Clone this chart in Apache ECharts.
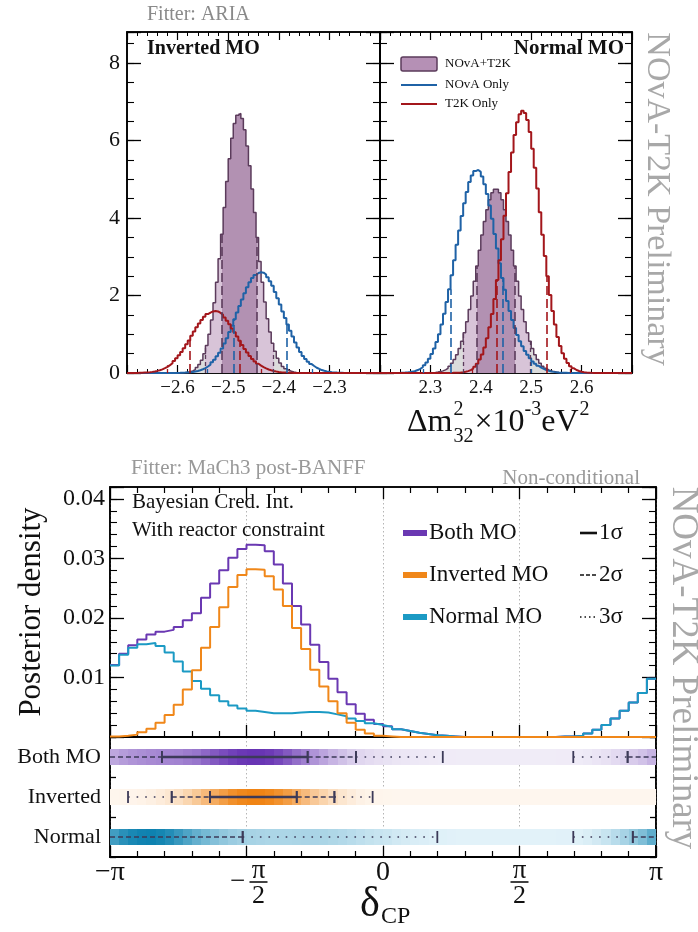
<!DOCTYPE html>
<html><head><meta charset="utf-8">
<script src="https://cdn.jsdelivr.net/npm/echarts@6/dist/echarts.min.js"></script>
<style>html,body{margin:0;padding:0;background:#fff}#c{width:698px;height:932px}</style>
</head><body><div id="c"></div><script>
// ---------------- DATA ----------------
// Top: Δm²32 posteriors, bins of 0.005 (x10^-3 eV^2)
const dmBinWidth = 0.005;
const ioRange = [-2.7, -2.2];
const noRange = [2.2, 2.7];
const ioJoint = [0,0,0,0,0,0,0,0,0,0,
  0,0,0,0,0,0,0,0,0,0.001,
  0.003,0.005,0.009,0.017,0.031,0.052,0.087,0.14,0.22,0.33,
  0.50,0.71,1.00,1.37,1.81,2.34,2.95,3.58,4.27,4.94,
  5.53,6.06,6.44,6.65,6.70,6.57,6.28,5.86,5.35,4.75,
  4.14,3.50,2.88,2.34,1.83,1.40,1.06,0.77,0.56,0.38,
  0.26,0.17,0.11,0.071,0.044,0.026,0.016,0.009,0.005,0.003,
  0.001,0,0,0,0,0,0,0,0,0,
  0,0,0,0,0,0,0,0,0,0,
  0,0,0,0,0,0,0,0,0,0];
const ioNova = [0,0,0,0,0,0,0,0,0,0,
  0,0,0,0,0,0,0.001,0.001,0.002,0.003,
  0.004,0.007,0.010,0.014,0.020,0.028,0.039,0.053,0.072,0.096,
  0.126,0.168,0.216,0.275,0.345,0.43,0.52,0.63,0.76,0.90,
  1.06,1.22,1.39,1.56,1.73,1.90,2.06,2.21,2.34,2.45,
  2.53,2.58,2.60,2.59,2.54,2.47,2.37,2.25,2.09,1.93,
  1.77,1.59,1.42,1.25,1.09,0.94,0.79,0.66,0.54,0.44,
  0.36,0.29,0.23,0.18,0.136,0.104,0.076,0.056,0.041,0.030,
  0.021,0.015,0.010,0.007,0.005,0.003,0.002,0.001,0.001,0,
  0,0,0,0,0,0,0,0,0,0];
const ioT2k = [0.001,0.0015,0.002,0.003,0.005,0.007,0.011,0.015,0.021,0.029,
  0.040,0.054,0.072,0.094,0.124,0.159,0.203,0.253,0.311,0.38,
  0.46,0.54,0.64,0.74,0.84,0.96,1.07,1.18,1.28,1.37,
  1.45,1.52,1.56,1.59,1.60,1.59,1.55,1.50,1.43,1.35,
  1.26,1.15,1.05,0.94,0.83,0.72,0.62,0.53,0.44,0.36,
  0.30,0.24,0.19,0.152,0.119,0.090,0.069,0.051,0.038,0.028,
  0.020,0.014,0.010,0.007,0.005,0.003,0.002,0.001,0,0,
  0,0,0,0,0,0,0,0,0,0,
  0,0,0,0,0,0,0,0,0,0,
  0,0,0,0,0,0,0,0,0,0];
const noJoint = [0,0,0,0,0,0,0,0,0,0,
  0,0,0,0,0,0,0,0.002,0.003,0.005,
  0.009,0.015,0.023,0.036,0.055,0.082,0.12,0.175,0.25,0.35,
  0.47,0.63,0.82,1.04,1.32,1.64,1.99,2.37,2.76,3.17,
  3.56,3.91,4.21,4.47,4.65,4.74,4.74,4.65,4.47,4.21,
  3.91,3.56,3.17,2.76,2.37,1.99,1.64,1.32,1.04,0.82,
  0.63,0.47,0.35,0.25,0.175,0.12,0.082,0.055,0.036,0.023,
  0.015,0.009,0.005,0.003,0.002,0,0,0,0,0,
  0,0,0,0,0,0,0,0,0,0,
  0,0,0,0,0,0,0,0,0,0];
const noNova = [0,0,0,0.001,0.001,0.002,0.003,0.004,0.007,0.011,
  0.016,0.024,0.036,0.052,0.076,0.107,0.148,0.20,0.27,0.37,
  0.49,0.63,0.80,1.00,1.25,1.53,1.83,2.16,2.52,2.91,
  3.31,3.68,4.05,4.38,4.67,4.93,5.10,5.21,5.24,5.19,
  5.07,4.87,4.62,4.32,3.98,3.59,3.21,2.83,2.45,2.15,
  1.86,1.60,1.37,1.16,0.98,0.82,0.69,0.57,0.47,0.38,
  0.30,0.24,0.185,0.14,0.105,0.078,0.057,0.041,0.029,0.020,
  0.014,0.009,0.006,0.004,0.002,0.001,0,0,0,0,
  0,0,0,0,0,0,0,0,0,0,
  0,0,0,0,0,0,0,0,0,0];
const noT2k = [0,0,0,0,0,0,0,0,0,0,
  0,0,0,0,0,0,0,0,0,0,
  0,0,0,0,0,0.001,0.002,0.003,0.004,0.006,
  0.009,0.013,0.020,0.031,0.048,0.073,0.11,0.163,0.24,0.35,
  0.48,0.66,0.90,1.18,1.52,1.91,2.40,2.91,3.45,4.06,
  4.64,5.19,5.69,6.14,6.47,6.68,6.77,6.71,6.53,6.22,
  5.79,5.30,4.76,4.15,3.57,3.02,2.50,2.01,1.60,1.25,
  0.93,0.70,0.51,0.37,0.26,0.176,0.12,0.077,0.051,0.032,
  0.020,0.012,0.007,0.004,0.002,0.001,0,0,0,0,
  0,0,0,0,0,0,0,0,0,0];
// credible intervals (1σ, 2σ)
const ioJointCI = {one:[-2.512,-2.443], two:[-2.545,-2.410]};
const ioNovaCI  = {one:[-2.489,-2.384], two:[-2.542,-2.334]};
const ioT2kCI   = {one:[-2.576,-2.478], two:[-2.620,-2.435]};
const noJointCI = {one:[2.392,2.468], two:[2.365,2.498]};
const noNovaCI  = {one:[2.340,2.443], two:[2.286,2.501]};
const noT2kCI   = {one:[2.432,2.531], two:[2.384,2.578]};

// Bottom: δCP posteriors (x in units of π), 60 bins over [-π, π]
const dcpRange = [-1, 1];
const dcpBinWidth = 1/30;
const dcpBoth = [0.0121,0.0140,0.0154,0.0164,0.0172,0.0177,0.0180,0.0185,0.0196,0.0208, 0.0234,0.0258,0.0280,0.0301,0.0316,0.0323,0.0322,0.0312,0.0290,0.0258, 0.0220,0.0189,0.0155,0.0126,0.0098,0.0075,0.0055,0.0039,0.0029,0.0022, 0.0018,0.0013,0.0010,0.0007,0.0005,0.0003,0.0002,0.0001,0,0, 0,0,0,0,0,0,0,0,0,0.0001, 0.0001,0.0002,0.0006,0.0012,0.0020,0.0031,0.0044,0.0058,0.0074,0.0098];
const dcpIO = [0.0001,0.0002,0.0004,0.0008,0.0014,0.0024,0.0037,0.0054,0.0080,0.0112, 0.0150,0.0185,0.0218,0.0252,0.0272,0.0282,0.0281,0.0270,0.0248,0.0220, 0.0183,0.0148,0.0113,0.0085,0.0060,0.0040,0.0024,0.0012,0.0006,0.0002, 0.0001,0,0,0,0,0,0,0,0,0, 0,0,0,0,0,0,0,0,0,0, 0,0,0,0,0,0,0,0,0,0];
const dcpNO = [0.0120,0.0138,0.0150,0.0156,0.0158,0.0153,0.0142,0.0127,0.0110,0.0094, 0.0081,0.0070,0.0060,0.0053,0.0048,0.0044,0.0042,0.0040,0.0040,0.0040, 0.0041,0.0042,0.0042,0.0041,0.0038,0.0035,0.0031,0.0027,0.0023,0.0020, 0.0017,0.0013,0.0010,0.0007,0.0005,0.0003,0.0002,0.0001,0,0, 0,0,0,0,0,0,0,0,0,0.0001, 0.0001,0.0002,0.0006,0.0012,0.0020,0.0031,0.0044,0.0058,0.0074,0.0098];
const rowNames = ['Both MO', 'Inverted', 'Normal'];
// intervals: [start, end, level(1,2,3)] in units of π
const bothIntervals = [[-1,-0.81,2],[-0.81,-0.276,1],[-0.276,-0.099,2],[-0.099,0.219,3],[0.697,0.896,3],[0.896,1,2]];
const invIntervals  = [[-0.934,-0.774,3],[-0.774,-0.634,2],[-0.634,-0.316,1],[-0.316,-0.178,2],[-0.178,-0.038,3]];
const norIntervals  = [[-1,-0.514,2],[-0.514,0.199,3],[0.697,0.915,3],[0.915,1,2]];
const topYTicks = [0,2,4,6,8];
const dcpYTicks = [0.01,0.02,0.03,0.04];

// ---------------- STYLE ----------------
const SERIF = '"Liberation Serif","Times New Roman",serif';
const C_PUR = '#5b3b5b', C_BLUE = '#1f62a6', C_RED = '#a3161b';
const C_BOTH = '#6a38b2', C_IO = '#f08719', C_NO = '#1b9ac4';

const chart = echarts.init(document.getElementById('c'), null, {renderer:'canvas', width:698, height:932});

function stepPoints(arr, x0, bw) {
  const pts = [];
  arr.forEach((v,i)=>{ pts.push([x0+i*bw, v]); pts.push([x0+(i+1)*bw, v]); });
  return pts;
}
function centers(arr, x0, bw) { return arr.map((v,i)=>[x0+(i+0.5)*bw, v, i]); }
function ciLines(ci, arr, x0, color) {
  const out = [];
  [['one',[9,4],1.6],['two',[4,3],1.3]].forEach(([k,dash,lw])=>{
    ci[k].forEach(x=>{
      const v = arr[Math.min(arr.length-1, Math.floor((x-x0)/dmBinWidth))];
      out.push([{coord:[x,0], lineStyle:{color:color, type:dash, width:lw}}, {coord:[x,v]}]);
    });
  });
  return out;
}
function fillRender(ci, xStart) {
  return function(params, api) {
    const v = api.value(1), i = api.value(2);
    const children = [];
    if (v > 0) {
      const a0 = xStart + i*dmBinWidth, a1 = xStart + (i+1)*dmBinWidth;
      const layers = [[-1e9,1e9,'#dcdcdc'],[ci.two[0],ci.two[1],'#d8c4d8'],[ci.one[0],ci.one[1],'#b291b2']];
      layers.forEach(([lo,hi,col])=>{
        const a = Math.max(a0,lo), b = Math.min(a1,hi);
        if (b > a) {
          const p0 = api.coord([a, v]), p1 = api.coord([b, 0]);
          const xl = Math.round(p0[0]), xr = Math.round(p1[0]);
          if (xr > xl) children.push({type:'rect', shape:{x:xl, y:p0[1], width:xr-xl, height:p1[1]-p0[1]}, style:{fill:col}});
        }
      });
    }
    return {type:'group', children};
  };
}
const bandArrays = [dcpBoth, dcpIO, dcpNO];
const bandMax = bandArrays.map(a=>Math.max(...a));
const bandTint = [[240,236,247],[254,246,238],[226,242,249]];
const bandFull = [[104,52,180],[240,132,20],[14,130,176]];
function bandRender(params, api) {
  const r = api.value(1), v = api.value(2), i = api.value(3);
  const t = Math.min(1, v / bandMax[r]);
  const c = bandTint[r].map((tv,k)=> Math.round(tv + (bandFull[r][k]-tv)*t));
  const p0 = api.coord([dcpRange[0] + i*dcpBinWidth, r]), p1 = api.coord([dcpRange[0] + (i+1)*dcpBinWidth, r]);
  const xl = Math.round(p0[0]), xr = Math.round(p1[0]);
  return {type:'rect', shape:{x:xl, y:Math.round(p0[1])-8, width:xr-xl, height:16}, style:{fill:'rgb('+c.join(',')+')'}};
}
function ivRender(params, api) {
  const s = api.value(0), r = api.value(1), e = api.value(2), lv = api.value(3);
  const p0 = api.coord([s, r]), p1 = api.coord([e, r]);
  const st = lv === 1 ? {lineWidth:2.4, lineDash:null} : (lv === 2 ? {lineWidth:1.6, lineDash:[5,3]} : {lineWidth:1.6, lineDash:[1.6,7]});
  const col = '#3c3a58';
  const ch = [{type:'line', shape:{x1:p0[0],y1:p0[1],x2:p1[0],y2:p1[1]}, style:{stroke:col, lineWidth:st.lineWidth, lineDash:st.lineDash}}];
  [[s,p0],[e,p1]].forEach(([x,p])=>{
    if (Math.abs(x) < 0.999) ch.push({type:'line', shape:{x1:p[0],y1:p[1]-6,x2:p[0],y2:p[1]+6}, style:{stroke:col, lineWidth:1.8}});
  });
  return {type:'group', children: ch};
}

// ---------------- AXES ----------------
const LINE = {show:true, onZero:false, lineStyle:{color:'#000', width:1.6}};
const NOLINE = {show:false, onZero:false};
function valAxis(o) {
  return Object.assign({
    type:'value', axisLine:LINE, splitLine:{show:false},
    axisLabel:{show:false}, axisTick:{show:true, inside:true, length:8, lineStyle:{color:'#000', width:1.2}},
    minorTick:{show:false}
  }, o);
}
const lblStyle = (size, fmt, margin) => ({show:true, fontFamily:SERIF, fontSize:size, color:'#111', formatter:fmt, margin:margin});
const topXFmtIO = v => (v > -2.65 && v < -2.25) ? '\u2212' + Math.abs(v).toFixed(1) : '';
const topXFmtNO = v => (v > 2.25 && v < 2.65) ? v.toFixed(1) : '';
const topYFmt = v => topYTicks.indexOf(v) >= 0 ? String(v) : '';
const dcpYFmt = v => dcpYTicks.some(t=>Math.abs(t-v)<1e-9) ? v.toFixed(2) : '';
const dcpXFmt = v => v === -1 ? '\u2212\u03c0' : (v === 0 ? '0' : (v === 1 ? '\u03c0' : ''));
const minorX = {show:true, splitNumber:5, length:4, lineStyle:{color:'#000', width:1}};

const xAxis = [
  valAxis({gridIndex:0, position:'bottom', min:ioRange[0], max:ioRange[1], interval:0.1, axisLabel:lblStyle(19, topXFmtIO, 6), minorTick:minorX}),
  valAxis({gridIndex:0, position:'top', min:ioRange[0], max:ioRange[1], interval:0.1, minorTick:minorX}),
  valAxis({gridIndex:1, position:'bottom', min:noRange[0], max:noRange[1], interval:0.1, axisLabel:lblStyle(19, topXFmtNO, 6), minorTick:minorX}),
  valAxis({gridIndex:1, position:'top', min:noRange[0], max:noRange[1], interval:0.1, minorTick:minorX}),
  valAxis({gridIndex:2, position:'bottom', min:-1, max:1, interval:0.5, axisLine:{show:true,onZero:false,lineStyle:{color:'#000',width:2.2}},
    axisTick:{show:true, inside:true, length:12, lineStyle:{color:'#000', width:1.3}},
    minorTick:{show:true, splitNumber:5, length:6, lineStyle:{color:'#000', width:1.2}},
    splitLine:{show:true, lineStyle:{color:'#b5b5b5', width:1, type:[1.5,2.5]}}}),
  valAxis({gridIndex:2, position:'top', min:-1, max:1, interval:0.5,
    axisTick:{show:true, inside:true, length:12, lineStyle:{color:'#000', width:1.3}},
    minorTick:{show:true, splitNumber:5, length:6, lineStyle:{color:'#000', width:1.2}}}),
  valAxis({gridIndex:3, position:'bottom', min:-1, max:1, interval:0.5, axisLine:{show:true,onZero:false,lineStyle:{color:'#000',width:2.2}},
    axisLabel:lblStyle(28, dcpXFmt, 2),
    axisTick:{show:true, inside:true, length:11, lineStyle:{color:'#000', width:1.3}},
    minorTick:{show:true, splitNumber:5, length:6, lineStyle:{color:'#000', width:1.2}},
    splitLine:{show:true, lineStyle:{color:'#b5b5b5', width:1, type:[1.5,2.5]}}})
];
function ySet(grid, pos, max, majI, minI, label) {
  return [
    valAxis({gridIndex:grid, position:pos, min:0, max:max, interval:majI, axisLabel: label || {show:false},
      axisTick:{show:true, inside:true, length:14, lineStyle:{color:'#000', width:1.3}}}),
    valAxis({gridIndex:grid, position:pos, min:0, max:max, interval:minI, axisLine:NOLINE,
      axisTick:{show:true, inside:true, length:7, lineStyle:{color:'#000', width:1.1}}})
  ];
}
const TOPMAX = 8.8, DCPMAX = 0.042;
const yAxis = [].concat(
  ySet(0, 'left', TOPMAX, 2, 0.5, lblStyle(22, topYFmt, 7)),
  ySet(0, 'right', TOPMAX, 2, 0.5),
  ySet(1, 'left', TOPMAX, 2, 0.5),
  ySet(1, 'right', TOPMAX, 2, 0.5),
  ySet(2, 'left', DCPMAX, 0.01, 0.002, lblStyle(24, dcpYFmt, 5)),
  ySet(2, 'right', DCPMAX, 0.01, 0.002),
  [
    {type:'category', gridIndex:3, position:'left', data:rowNames, inverse:true, axisLine:LINE,
      axisLabel:{fontFamily:SERIF, fontSize:22, color:'#111', margin:9},
      axisTick:{show:true, inside:true, length:6, lineStyle:{color:'#000', width:1.3}}, splitLine:{show:false}},
    {type:'category', gridIndex:3, position:'right', data:rowNames, inverse:true, axisLine:LINE,
      axisLabel:{show:false}, axisTick:{show:true, inside:true, length:6, lineStyle:{color:'#000', width:1.3}}, splitLine:{show:false}}
  ]
);

// ---------------- SERIES ----------------
function histLine(arr, x0, bw, color, lw, xi, yi, extra) {
  return Object.assign({type:'line', xAxisIndex:xi, yAxisIndex:yi, data:stepPoints(arr, x0, bw), showSymbol:false, symbol:'none',
    lineStyle:{color:color, width:lw}, itemStyle:{color:color}, silent:true, clip:true}, extra||{});
}
function ml(data) { return {markLine:{silent:true, symbol:['none','none'], label:{show:false}, animation:false, data:data}}; }

const series = [
  {type:'custom', xAxisIndex:0, yAxisIndex:0, data:centers(ioJoint, ioRange[0], dmBinWidth), encode:{x:0,y:1}, renderItem:fillRender(ioJointCI, ioRange[0]), clip:true, silent:true},
  histLine(ioJoint, ioRange[0], dmBinWidth, C_PUR, 1.5, 0, 0, ml(ciLines(ioJointCI, ioJoint, ioRange[0], C_PUR))),
  histLine(ioNova, ioRange[0], dmBinWidth, C_BLUE, 2, 0, 0, ml(ciLines(ioNovaCI, ioNova, ioRange[0], C_BLUE))),
  histLine(ioT2k, ioRange[0], dmBinWidth, C_RED, 2, 0, 0, ml(ciLines(ioT2kCI, ioT2k, ioRange[0], C_RED))),
  {type:'custom', xAxisIndex:2, yAxisIndex:4, data:centers(noJoint, noRange[0], dmBinWidth), encode:{x:0,y:1}, renderItem:fillRender(noJointCI, noRange[0]), clip:true, silent:true},
  histLine(noJoint, noRange[0], dmBinWidth, C_PUR, 1.5, 2, 4, ml(ciLines(noJointCI, noJoint, noRange[0], C_PUR))),
  histLine(noNova, noRange[0], dmBinWidth, C_BLUE, 2, 2, 4, ml(ciLines(noNovaCI, noNova, noRange[0], C_BLUE))),
  histLine(noT2k, noRange[0], dmBinWidth, C_RED, 2, 2, 4, ml(ciLines(noT2kCI, noT2k, noRange[0], C_RED))),
  histLine(dcpBoth, dcpRange[0], dcpBinWidth, C_BOTH, 2, 4, 8),
  histLine(dcpNO, dcpRange[0], dcpBinWidth, C_NO, 2, 4, 8),
  histLine(dcpIO, dcpRange[0], dcpBinWidth, C_IO, 2, 4, 8),
  {type:'custom', xAxisIndex:6, yAxisIndex:12, silent:true, clip:true, encode:{x:0,y:1},
    data:[].concat(...bandArrays.map((arr,r)=>arr.map((v,i)=>[dcpRange[0]+(i+0.5)*dcpBinWidth, r, v, i]))), renderItem:bandRender},
  {type:'custom', xAxisIndex:6, yAxisIndex:12, silent:true, clip:false, encode:{x:[0,2],y:1},
    data:[].concat(bothIntervals.map(a=>[a[0],0,a[1],a[2]]), invIntervals.map(a=>[a[0],1,a[1],a[2]]), norIntervals.map(a=>[a[0],2,a[1],a[2]])),
    renderItem:ivRender}
];

const gridBase = {show:true, borderColor:'#000', borderWidth:1.6, containLabel:false, outerBoundsMode:'none'};
chart.setOption({
  animation:false,
  backgroundColor:'#fff',
  grid:[
    Object.assign({left:127, top:32, width:253, height:341}, gridBase),
    Object.assign({left:380, top:32, width:252, height:341}, gridBase),
    Object.assign({left:110, top:487, width:546, height:250}, gridBase),
    Object.assign({left:110, top:737, width:546, height:120}, gridBase)
  ],
  xAxis:xAxis, yAxis:yAxis, series:series
});

// ---------------- TEXT / LEGENDS ----------------
const mctx = document.createElement('canvas').getContext('2d');
function tw(str, size, weight) { mctx.font = (weight||'normal') + ' ' + size + 'px "Liberation Serif"'; return mctx.measureText(str).width; }
function T(text, x, y, size, o) {
  return Object.assign({type:'text', x:x, y:y, silent:true, style:Object.assign({text:text, fontFamily:SERIF, fontSize:size, fill:'#111', align:'left', verticalAlign:'middle'}, (o&&o.style)||{})}, o&&o.el||{});
}
const g = [];
g.push(T('Fitter: ARIA', 147, 15, 20, {style:{fill:'#8a8a8a'}}));
g.push(T('Inverted MO', 147, 49, 20, {style:{fontWeight:'bold'}}));
g.push(T('Normal MO', 624, 49, 21, {style:{fontWeight:'bold', align:'right'}}));
g.push({type:'rect', silent:true, shape:{x:401, y:57, width:36, height:14, r:2}, style:{fill:'#b590b5', stroke:C_PUR, lineWidth:1.5}});
g.push(T('NOvA+T2K', 445, 64, 13));
g.push({type:'line', silent:true, shape:{x1:401, y1:85, x2:437, y2:85}, style:{stroke:C_BLUE, lineWidth:2}});
g.push(T('NOvA Only', 445, 85, 13));
g.push({type:'line', silent:true, shape:{x1:401, y1:104, x2:437, y2:104}, style:{stroke:C_RED, lineWidth:2}});
g.push(T('T2K Only', 445, 104, 13));
g.push(T('NOvA-T2K Preliminary', 657, 199, 34, {style:{fill:'#a8a8a8', align:'center'}, el:{rotation:-Math.PI/2}}));
(function(){
  let x = 407; const yb = 423;
  g.push(T('\u0394m', x, yb, 32)); x += tw('\u0394m', 32) + 1;
  g.push(T('2', x, yb - 13, 20)); g.push(T('32', x, yb + 14, 20)); x += tw('32', 20) + 1;
  g.push(T('\u00d710', x, yb, 32)); x += tw('\u00d710', 32);
  g.push(T('-3', x, yb - 13, 20)); x += tw('-3', 20);
  g.push(T('eV', x, yb, 32)); x += tw('eV', 32) + 1;
  g.push(T('2', x, yb - 13, 20));
})();
g.push(T('Fitter: MaCh3 post-BANFF', 131, 468, 21, {style:{fill:'#999'}}));
g.push(T('Non-conditional', 640, 478, 21, {style:{fill:'#999', align:'right'}}));
g.push(T('Bayesian Cred. Int.', 132, 502, 21));
g.push(T('With reactor constraint', 132, 530, 21));
[[C_BOTH,'Both MO',533],[C_IO,'Inverted MO',575],[C_NO,'Normal MO',617]].forEach(([c,t,y])=>{
  g.push({type:'rect', silent:true, shape:{x:403, y:y-3, width:24, height:6}, style:{fill:c}});
  g.push(T(t, 429, y, 23));
});
[[null,'1\u03c3',533,2.6],[[4,2],'2\u03c3',575,1.5],[[1.5,3],'3\u03c3',617,1.5]].forEach(([d,t,y,lw])=>{
  g.push({type:'line', silent:true, shape:{x1:580, y1:y, x2:597, y2:y}, style:{stroke:'#111', lineWidth:lw, lineDash:d}});
  g.push(T(t, 599, y, 23));
});
g.push(T('Posterior density', 32, 612, 31, {style:{align:'center'}, el:{rotation:Math.PI/2}}));
g.push(T('NOvA-T2K Preliminary', 683, 668, 37, {style:{fill:'#a8a8a8', align:'center'}, el:{rotation:-Math.PI/2}}));
const xm = chart.convertToPixel({xAxisIndex:6}, -0.5);
const xp = chart.convertToPixel({xAxisIndex:6}, 0.5);
const x0 = chart.convertToPixel({xAxisIndex:6}, 0);
[[xm + 12, true],[xp, false]].forEach(([cx, neg])=>{
  g.push(T('\u03c0', cx, 871, 27, {style:{align:'center'}}));
  g.push({type:'line', silent:true, shape:{x1:cx-9, y1:882, x2:cx+9, y2:882}, style:{stroke:'#111', lineWidth:1.6}});
  g.push(T('2', cx, 896, 26, {style:{align:'center'}}));
  if (neg) g.push(T('\u2212', cx - 21, 882, 27, {style:{align:'center'}}));
});
g.push(T('\u03b4', x0 - 13, 905, 42, {style:{align:'center'}}));
g.push(T('CP', x0 - 2, 917, 24));
chart.setOption({graphic:{elements:g}});
</script></body></html>
